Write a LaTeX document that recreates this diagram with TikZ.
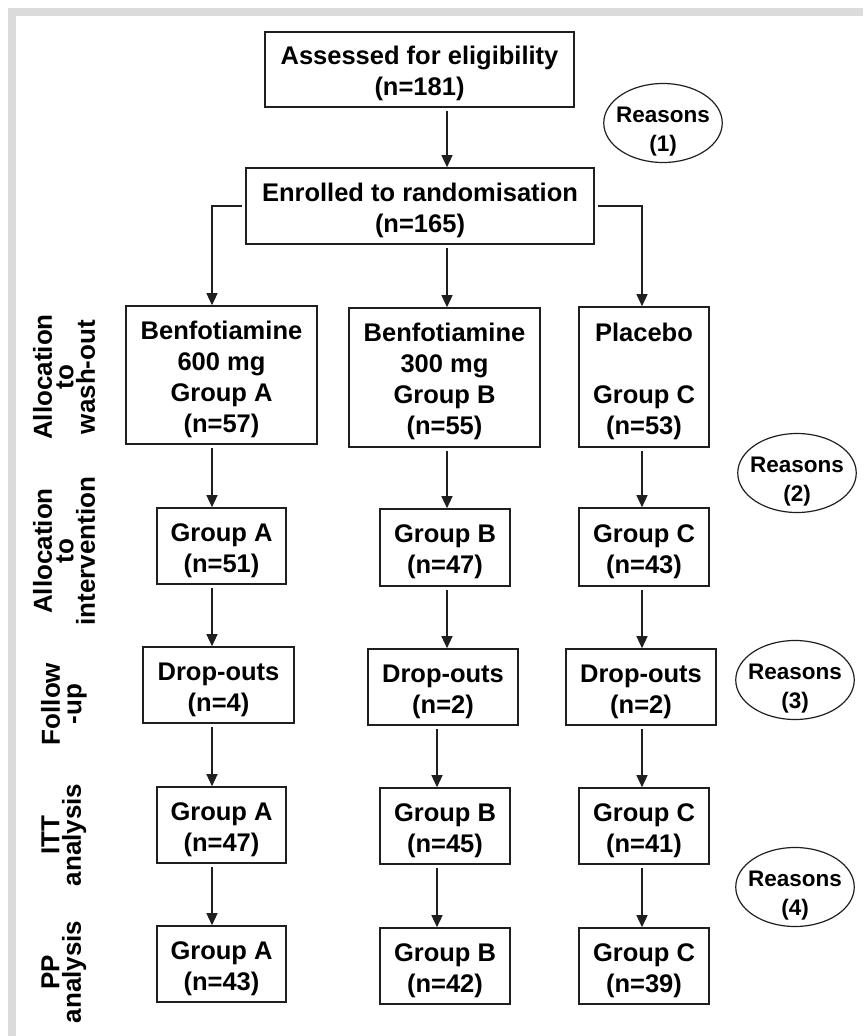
\documentclass[tikz,border=0pt]{standalone}
\usepackage{fontspec}
\setmainfont{Liberation Sans}
\usetikzlibrary{arrows.meta,shapes.geometric}
\newcommand\bxup{\rule{0pt}{27pt}}
\newcommand\rsup{\rule{0pt}{32pt}}
\tikzset{
  bx/.style={draw=black!88, line width=1.6pt, align=center, inner sep=0pt,
    font=\fontsize{25.5}{31}\selectfont\bfseries},
  rowlabel/.style={rotate=90, align=center, inner sep=0pt,
    font=\fontsize{26}{21.5}\selectfont\bfseries},
  reason/.style={ellipse, draw=black!88, line width=1.2pt, align=center,
    inner xsep=-5pt, inner ysep=-8pt, minimum width=118pt, minimum height=79pt,
    font=\fontsize{22.5}{29}\selectfont\bfseries},
  arr/.style={line width=1.3pt, draw=black!88, -{Triangle[length=12pt,width=11pt]}, shorten <=3pt},
  frame/.style={fill=black!14, draw=none},
}
\begin{document}
\begin{tikzpicture}[x=1pt,y=-1pt]
\useasboundingbox (0,0) rectangle (863,1036);
% light grey frame
\fill[frame] (8,8) rectangle (863,16);
\fill[frame] (8,8) rectangle (16,1036);

% column coordinates for the arrows
\coordinate (colA) at (212,0);
\coordinate (colB) at (447,0);
\coordinate (colBb) at (437,0);
\coordinate (colC) at (642,0);

% top boxes
\node[bx, minimum width=309pt, minimum height=75pt] (ass) at (419.5,69.5) {\bxup Assessed for eligibility\\(n=181)};
\node[bx, minimum width=348pt, minimum height=76pt] (enr) at (420,206) {\bxup Enrolled to randomisation\\(n=165)};
\node[reason] (r1) at (663,123) {\rsup Reasons\\(1)};

% row 1
\node[bx, minimum width=191pt, minimum height=138pt] (a1) at (221.5,375) {\bxup Benfotiamine\\600 mg\\Group A\\(n=57)};
\node[bx, minimum width=191pt, minimum height=139pt] (b1) at (444.5,377.5) {\bxup Benfotiamine\\300 mg\\Group B\\(n=55)};
\node[bx, minimum width=130pt, minimum height=140pt] (c1) at (644,377) {\bxup Placebo\\ \\Group C\\(n=53)};
\node[reason] (r2) at (797,473) {\rsup Reasons\\(2)};

% row 2
\node[bx, minimum width=129pt, minimum height=76pt] (a2) at (221.5,546) {\bxup Group A\\(n=51)};
\node[bx, minimum width=130pt, minimum height=77pt] (b2) at (445,547.5) {\bxup Group B\\(n=47)};
\node[bx, minimum width=130pt, minimum height=78pt] (c2) at (644,547) {\bxup Group C\\(n=43)};

% row 3
\node[bx, minimum width=151pt, minimum height=76pt] (a3) at (218.5,685) {\bxup Drop-outs\\(n=4)};
\node[bx, minimum width=150pt, minimum height=76pt] (b3) at (443,687) {\bxup Drop-outs\\(n=2)};
\node[bx, minimum width=150pt, minimum height=76pt] (c3) at (641,687) {\bxup Drop-outs\\(n=2)};
\node[reason] (r3) at (795,680) {\rsup Reasons\\(3)};

% row 4
\node[bx, minimum width=129pt, minimum height=76pt] (a4) at (221.5,825) {\bxup Group A\\(n=47)};
\node[bx, minimum width=130pt, minimum height=76pt] (b4) at (445,826) {\bxup Group B\\(n=45)};
\node[bx, minimum width=130pt, minimum height=76pt] (c4) at (644,826) {\bxup Group C\\(n=41)};
\node[reason] (r4) at (795,887) {\rsup Reasons\\(4)};

% row 5
\node[bx, minimum width=129pt, minimum height=76pt] (a5) at (221.5,964) {\bxup Group A\\(n=43)};
\node[bx, minimum width=130pt, minimum height=76pt] (b5) at (445,966) {\bxup Group B\\(n=42)};
\node[bx, minimum width=130pt, minimum height=76pt] (c5) at (644,966) {\bxup Group C\\(n=39)};

% row labels
\node[rowlabel] (l1) at (64,377) {Allocation\\to\\wash-out};
\node[rowlabel] (l2) at (64,551) {Allocation\\to\\intervention};
\node[rowlabel] (l3) at (64,704) {Follow\\-up};
\node[rowlabel] (l4) at (64,835) {ITT\\analysis};
\node[rowlabel] (l5) at (64,972) {PP\\analysis};

% connectors
\draw[arr] (ass.south -| colB) -- (enr.north -| colB);
\draw[arr] (enr.west) -| (colA |- a1.north);
\draw[arr] (enr.south -| colB) -- (b1.north -| colB);
\draw[arr] (enr.east) -| (colC |- c1.north);

\draw[arr] (a1.south -| colA) -- (a2.north -| colA);
\draw[arr] (a2.south -| colA) -- (a3.north -| colA);
\draw[arr] (a3.south -| colA) -- (a4.north -| colA);
\draw[arr] (a4.south -| colA) -- (a5.north -| colA);

\draw[arr] (b1.south -| colB) -- (b2.north -| colB);
\draw[arr] (b2.south -| colB) -- (b3.north -| colB);
\draw[arr] (b3.south -| colBb) -- (b4.north -| colBb);
\draw[arr] (b4.south -| colBb) -- (b5.north -| colBb);

\draw[arr] (c1.south -| colC) -- (c2.north -| colC);
\draw[arr] (c2.south -| colC) -- (c3.north -| colC);
\draw[arr] (c3.south -| colC) -- (c4.north -| colC);
\draw[arr] (c4.south -| colC) -- (c5.north -| colC);
\end{tikzpicture}
\end{document}
